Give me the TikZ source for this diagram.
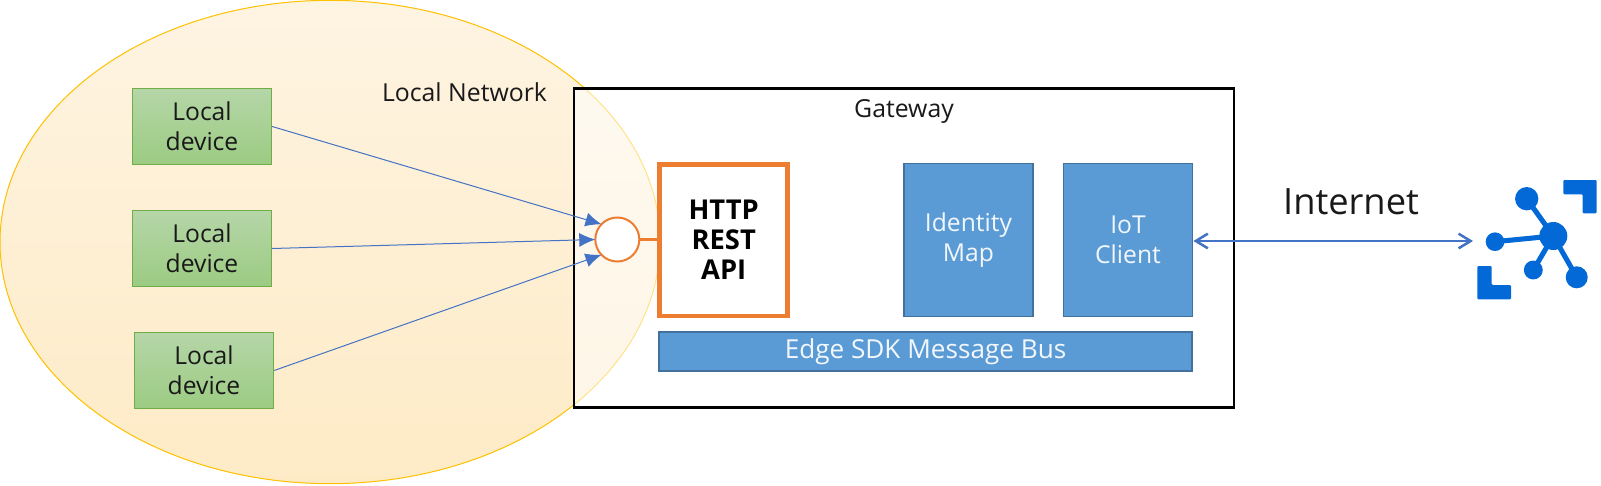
\documentclass[tikz,border=0pt]{standalone}
\usepackage{fontspec}
\setmainfont{Open Sans}
\usetikzlibrary{arrows.meta,shapes.geometric}
\definecolor{blueF}{HTML}{5B9BD5}
\definecolor{blueD}{HTML}{41719C}
\definecolor{lineB}{HTML}{4472C4}
\definecolor{orangeL}{HTML}{ED7D31}
\definecolor{iconB}{HTML}{0369D6}
\definecolor{devD}{HTML}{70AD47}
\definecolor{devT}{HTML}{B5D6A8}
\definecolor{devB}{HTML}{9CCB82}
\definecolor{ellT}{HTML}{FEF4E2}
\definecolor{ellB}{HTML}{FEEBC6}
\definecolor{ellD}{HTML}{FFC000}
\tikzset{
  x=0.75pt,y=-0.75pt,
  devbox/.style={draw=devD,line width=0.75pt,top color=devT,bottom color=devB,minimum width=104.5pt,minimum height=57pt,inner sep=0pt,align=center,font=\fontsize{18.5}{22.5}\selectfont,text=black!90},
  bluebox/.style={draw=blueD,line width=1.1pt,fill=blueF,inner sep=0pt,align=center,text=white!92!blueF,font=\fontsize{18.5}{22.5}\selectfont},
  link/.style={draw=lineB,line width=0.75pt,-{Latex[length=12pt,width=10.5pt]}},
  label/.style={inner sep=0pt,text=black!90,font=\fontsize{18.6}{22}\selectfont},
  hub/.style={circle,fill=iconB,inner sep=0pt},
  spoke/.style={draw=iconB,line width=3.8pt},
}
\begin{document}
\begin{tikzpicture}
\useasboundingbox (0,0) rectangle (1601,485);
% local network ellipse
\node[draw=ellD,line width=0.75pt,ellipse,top color=ellT,bottom color=ellB,inner sep=0pt,minimum width=495pt,minimum height=362.5pt] (net) at (330,242) {};
% gateway
\node[fill=white,fill opacity=0.55,draw opacity=1,draw=black,line width=1.9pt,minimum width=495pt,minimum height=239pt,inner sep=0pt] (gw) at (904,248) {};
\node[label] (netlabel) at (464.5,92) {Local Network};
\node[label] (gwlabel) at (904,111) {Gateway};
% devices
\node[devbox] (d1) at (202,126.5) {\raisebox{1pt}{Local}\\\raisebox{1pt}{device}};
\node[devbox] (d2) at (202,248.5) {\raisebox{1pt}{Local}\\\raisebox{1pt}{device}};
\node[devbox] (d3) at (204,370.5) {\raisebox{1pt}{Local}\\\raisebox{1pt}{device}};
% REST
\node[draw=orangeL,line width=3.6pt,fill=white,minimum width=95.8pt,minimum height=113.5pt,inner sep=0pt,align=center,font=\fontsize{20.5}{22.5}\selectfont\bfseries] (rest) at (723.7,240.3) {\raisebox{1pt}{HTTP}\\\raisebox{1pt}{REST}\\\raisebox{1pt}{API}};
\node[circle,draw=orangeL,line width=1.5pt,fill=white,minimum size=33pt,inner sep=0pt,outer sep=0pt] (port) at (617.3,239.5) {};
\draw[orangeL,line width=2.4pt] (port.east) -- (port.east -| rest.west);
\draw[link] (d1.east) -- (port.136);
\draw[link] (d2.east) -- (port.west);
\draw[link] (d3.east) -- (port.224);
% blue boxes
\node[bluebox,minimum width=96.8pt,minimum height=114.5pt] (idm) at (968.5,240) {Identity\\Map};
\node[bluebox,minimum width=97pt,minimum height=114.5pt] (iot) at (1128,240) {IoT\\Client};
\node[bluebox,minimum width=399.8pt,minimum height=29.5pt,font=\fontsize{19.6}{22.5}\selectfont] (bus) at (925.5,351.5) {\raisebox{-1pt}{Edge SDK Message Bus}};
% internet
\node[inner sep=0pt,text=black!90,font=\fontsize{27.2}{30}\selectfont] (inet) at (1351,202) {Internet};
\coordinate (cloud) at (1473,241);
\draw[lineB,line width=1.9pt,{Straight Barb[length=9pt,width=11pt]}-{Straight Barb[length=9pt,width=11pt]}] (iot.east |- cloud) -- (cloud);
% icon
\node[hub,minimum size=21pt] (c0) at (1553.3,236) {};
\node[hub,minimum size=17.5pt] (c1) at (1526.7,198.7) {};
\node[hub,minimum size=14pt] (c2) at (1495,241.7) {};
\node[hub,minimum size=14.2pt] (c3) at (1533.3,270) {};
\node[hub,minimum size=16.5pt] (c4) at (1576.7,277.3) {};
\draw[spoke] (c0.center) -- (c1.center);
\draw[spoke] (c0.center) -- (c2.center);
\draw[spoke] (c0.center) -- (c3.center);
\draw[spoke] (c0.center) -- (c4.center);
\fill[iconB,rounded corners=0.8pt] (1563.3,180) -- (1596.7,180) -- (1596.7,213.3) -- (1582.7,213.3) -- (1582.7,194.3) -- (1563.3,194.3) -- cycle;
\fill[iconB,rounded corners=0.8pt] (1477.3,266) -- (1491.7,266) -- (1491.7,285) -- (1511,285) -- (1511,299.3) -- (1477.3,299.3) -- cycle;
\end{tikzpicture}
\end{document}
